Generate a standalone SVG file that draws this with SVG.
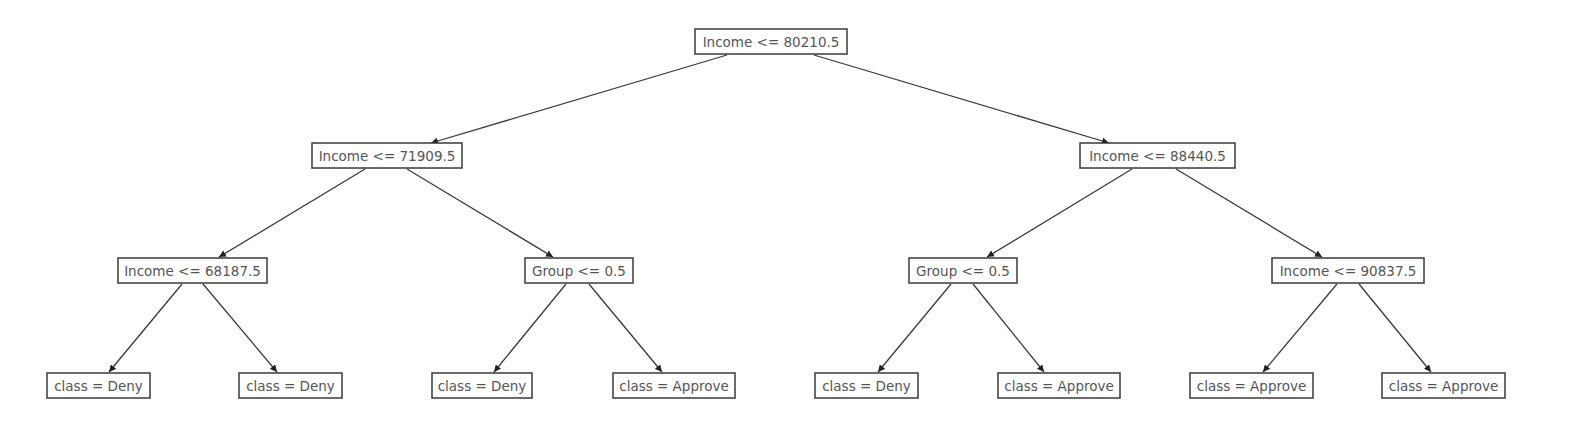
<svg xmlns="http://www.w3.org/2000/svg" width="1579" height="443" viewBox="0 0 1579 443">
<style>
.box{fill:#fff;stroke:#3a3a3a;stroke-width:1.5}
.t{font-family:"DejaVu Sans",sans-serif;font-size:13.5px;fill:#555;text-anchor:middle;dominant-baseline:central}
.e{stroke:#3a3a3a;stroke-width:1.3;fill:none;marker-end:url(#ah)}
</style>
<defs>
<marker id="ah" viewBox="0 0 10 10" refX="10" refY="5" markerWidth="7" markerHeight="7" markerUnits="userSpaceOnUse" orient="auto">
<path d="M0,0 L10,5 L0,10 z" fill="#222"/>
</marker>
</defs>
<rect width="1579" height="443" fill="#fff"/>
<g id="edges">
<line class="e" x1="727" y1="55" x2="431" y2="143"/>
<line class="e" x1="814" y1="55" x2="1109" y2="143"/>
<line class="e" x1="365" y1="169" x2="219" y2="257"/>
<line class="e" x1="407" y1="169" x2="553" y2="257"/>
<line class="e" x1="1132" y1="169" x2="987" y2="257"/>
<line class="e" x1="1176" y1="169" x2="1322" y2="257"/>
<line class="e" x1="182" y1="284" x2="109" y2="372"/>
<line class="e" x1="203" y1="284" x2="277" y2="372"/>
<line class="e" x1="566" y1="284" x2="494" y2="372"/>
<line class="e" x1="589" y1="284" x2="662" y2="372"/>
<line class="e" x1="951" y1="284" x2="878" y2="372"/>
<line class="e" x1="973" y1="284" x2="1044" y2="372"/>
<line class="e" x1="1337" y1="284" x2="1263" y2="372"/>
<line class="e" x1="1359" y1="284" x2="1431" y2="372"/>
</g>
<g id="n0"><rect class="box" x="695" y="29" width="152" height="25"/><text class="t" x="771" y="41.5">Income &lt;= 80210.5</text></g>
<g id="n1"><rect class="box" x="312" y="143" width="150" height="25"/><text class="t" x="387" y="155.5">Income &lt;= 71909.5</text></g>
<g id="n2"><rect class="box" x="1080" y="143" width="155" height="25"/><text class="t" x="1157.5" y="155.5">Income &lt;= 88440.5</text></g>
<g id="n3"><rect class="box" x="118" y="258" width="149" height="25"/><text class="t" x="192.5" y="270.5">Income &lt;= 68187.5</text></g>
<g id="n4"><rect class="box" x="525" y="258" width="108" height="25"/><text class="t" x="579" y="270.5">Group &lt;= 0.5</text></g>
<g id="n5"><rect class="box" x="909" y="258" width="108" height="25"/><text class="t" x="963" y="270.5">Group &lt;= 0.5</text></g>
<g id="n6"><rect class="box" x="1272" y="258" width="152" height="25"/><text class="t" x="1348" y="270.5">Income &lt;= 90837.5</text></g>
<g id="n7"><rect class="box" x="47" y="373" width="103" height="25"/><text class="t" x="98.5" y="385.5">class = Deny</text></g>
<g id="n8"><rect class="box" x="239" y="373" width="103" height="25"/><text class="t" x="290.5" y="385.5">class = Deny</text></g>
<g id="n9"><rect class="box" x="432" y="373" width="100" height="25"/><text class="t" x="482" y="385.5">class = Deny</text></g>
<g id="n10"><rect class="box" x="613" y="373" width="122" height="25"/><text class="t" x="674" y="385.5">class = Approve</text></g>
<g id="n11"><rect class="box" x="815" y="373" width="103" height="25"/><text class="t" x="866.5" y="385.5">class = Deny</text></g>
<g id="n12"><rect class="box" x="998" y="373" width="122" height="25"/><text class="t" x="1059" y="385.5">class = Approve</text></g>
<g id="n13"><rect class="box" x="1190" y="373" width="123" height="25"/><text class="t" x="1251.5" y="385.5">class = Approve</text></g>
<g id="n14"><rect class="box" x="1382" y="373" width="123" height="25"/><text class="t" x="1443.5" y="385.5">class = Approve</text></g>
</svg>
